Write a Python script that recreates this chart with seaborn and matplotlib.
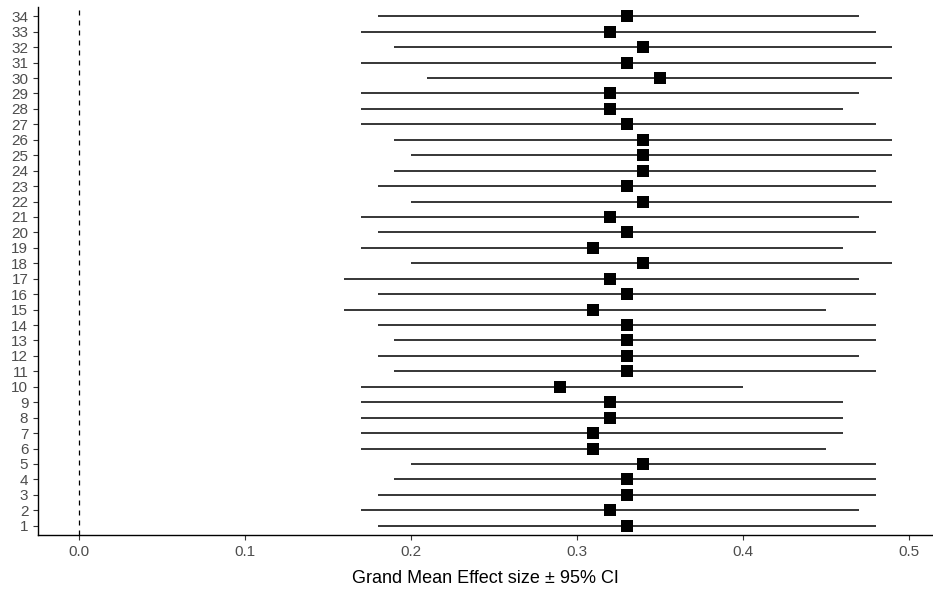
import matplotlib
matplotlib.use("Agg")
import matplotlib.pyplot as plt
import seaborn as sns
import pandas as pd
from matplotlib import font_manager

studies = list(range(1, 35))
means = [0.33, 0.32, 0.33, 0.33, 0.34, 0.31, 0.31, 0.32, 0.32, 0.29,
         0.33, 0.33, 0.33, 0.33, 0.31, 0.33, 0.32, 0.34, 0.31, 0.33,
         0.32, 0.34, 0.33, 0.34, 0.34, 0.34, 0.33, 0.32, 0.32, 0.35,
         0.33, 0.34, 0.32, 0.33]
lower = [0.18, 0.17, 0.18, 0.19, 0.20, 0.17, 0.17, 0.17, 0.17, 0.17,
         0.19, 0.18, 0.19, 0.18, 0.16, 0.18, 0.16, 0.20, 0.17, 0.18,
         0.17, 0.20, 0.18, 0.19, 0.20, 0.19, 0.17, 0.17, 0.17, 0.21,
         0.17, 0.19, 0.17, 0.18]
upper = [0.48, 0.47, 0.48, 0.48, 0.48, 0.45, 0.46, 0.46, 0.46, 0.40,
         0.48, 0.47, 0.48, 0.48, 0.45, 0.48, 0.47, 0.49, 0.46, 0.48,
         0.47, 0.49, 0.48, 0.48, 0.49, 0.49, 0.48, 0.46, 0.47, 0.49,
         0.48, 0.49, 0.48, 0.47]
x_ticks = [0.0, 0.1, 0.2, 0.3, 0.4, 0.5]
x_label = "Grand Mean Effect size \u00b1 95% CI"

df = pd.DataFrame({"study": studies, "mean": means, "lower": lower, "upper": upper})

sns.set_theme(style="ticks")
names = {f.name for f in font_manager.fontManager.ttflist}
fam = "Liberation Sans Narrow" if "Liberation Sans Narrow" in names else "Liberation Sans"
plt.rcParams["font.family"] = [fam, "DejaVu Sans"]

fig = plt.figure(figsize=(9.33, 5.94), dpi=100)
ax = fig.add_axes([38 / 933, 1 - 535 / 594, (933 - 38) / 933, (535 - 7) / 594])

ax.axvline(0, color="black", linestyle=(0, (4, 4)), linewidth=0.9, zorder=1)
ax.hlines(df["study"], df["lower"], df["upper"], color="black", linewidth=1.1, zorder=2)
sns.scatterplot(data=df, x="mean", y="study", marker="s", s=80, color="black",
                edgecolor="black", linewidth=0, ax=ax, zorder=3)

ax.set_xlim(-0.0245, 0.5145)
ax.set_ylim(0.4, 34.6)
ax.set_xticks(x_ticks)
ax.set_xticklabels([f"{t:.1f}" for t in x_ticks])
ax.set_yticks(studies)
ax.set_yticklabels([str(s) for s in studies])
ax.tick_params(axis="both", colors="#333333", labelcolor="#4D4D4D", labelsize=11,
               length=3.5, width=0.8)
ax.set_xlabel(x_label, fontsize=13, color="black", labelpad=8)
ax.set_ylabel("")
for side in ["top", "right"]:
    ax.spines[side].set_visible(False)
for side in ["left", "bottom"]:
    ax.spines[side].set_color("black")
    ax.spines[side].set_linewidth(1.0)

fig.savefig("out.png", dpi=100)
